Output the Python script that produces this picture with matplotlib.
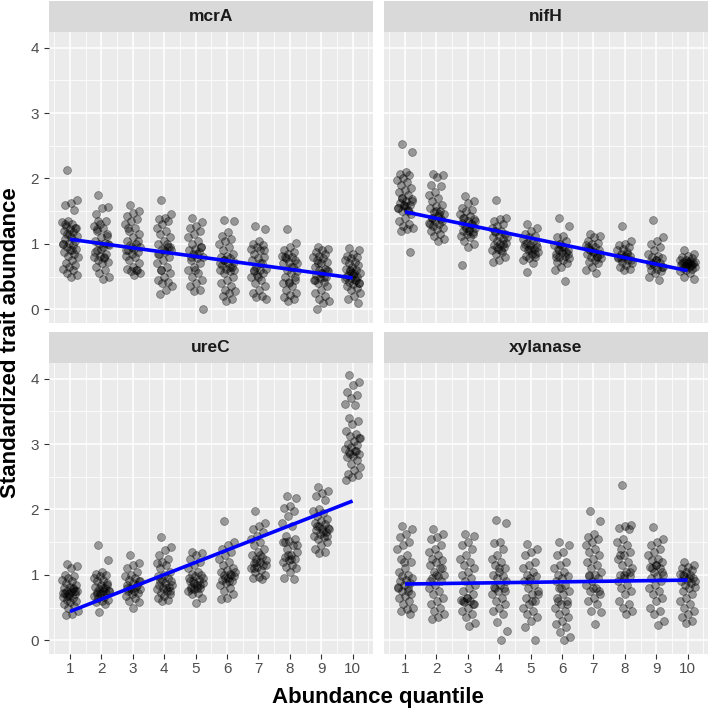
import numpy as np
import matplotlib.pyplot as plt

plt.rcParams['font.family'] = ['Liberation Sans', 'DejaVu Sans']

# values, one list per abundance quantile (1..10)
mcrA = [
    [2.13, 1.67, 1.62, 1.6, 1.52, 1.35, 1.33, 1.3, 1.28, 1.25, 1.22, 1.2, 1.18, 1.15, 1.12, 1.1, 1.08, 1.05, 1.02, 1.0, 0.98, 0.95, 0.92, 0.9, 0.88, 0.85, 0.82, 0.8, 0.75, 0.7, 0.68, 0.65, 0.62, 0.6, 0.55, 0.52, 0.5, 1.3, 1.25, 1.15, 1.0, 0.9],
    [1.75, 1.57, 1.55, 1.45, 1.35, 1.3, 1.28, 1.25, 1.2, 1.15, 1.1, 1.05, 1.02, 1.0, 0.98, 0.95, 0.9, 0.85, 0.82, 0.8, 0.78, 0.75, 0.72, 0.7, 0.65, 0.6, 0.55, 0.5, 0.47, 1.22, 1.12, 0.92, 0.88, 0.8, 1.35, 1.0],
    [1.6, 1.5, 1.47, 1.42, 1.38, 1.35, 1.3, 1.25, 1.2, 1.15, 1.1, 1.05, 1.0, 0.98, 0.95, 0.92, 0.9, 0.88, 0.85, 0.82, 0.8, 0.75, 0.7, 0.65, 0.62, 0.6, 0.58, 0.55, 0.52, 1.25, 1.05, 0.95, 0.9, 0.6],
    [1.67, 1.45, 1.4, 1.38, 1.35, 1.3, 1.25, 1.2, 1.15, 1.1, 1.05, 1.0, 0.95, 0.92, 0.9, 0.88, 0.85, 0.8, 0.75, 0.7, 0.65, 0.6, 0.55, 0.5, 0.45, 0.42, 0.4, 0.35, 0.3, 0.23, 0.95, 0.9, 0.85, 1.0, 0.6],
    [1.4, 1.33, 1.28, 1.25, 1.2, 1.15, 1.1, 1.05, 1.0, 0.95, 0.92, 0.9, 0.88, 0.85, 0.8, 0.78, 0.75, 0.7, 0.65, 0.6, 0.55, 0.5, 0.45, 0.4, 0.35, 0.3, 0.28, 0.0, 0.85, 0.8, 0.95, 0.6],
    [1.37, 1.35, 1.18, 1.12, 1.08, 1.05, 1.0, 0.95, 0.9, 0.85, 0.82, 0.8, 0.78, 0.75, 0.72, 0.7, 0.68, 0.65, 0.62, 0.6, 0.58, 0.55, 0.5, 0.45, 0.4, 0.35, 0.3, 0.28, 0.25, 0.2, 0.15, 0.12, 0.7, 0.65, 0.75, 0.6],
    [1.27, 1.22, 1.05, 1.0, 0.98, 0.95, 0.92, 0.9, 0.85, 0.8, 0.78, 0.75, 0.7, 0.65, 0.62, 0.6, 0.58, 0.55, 0.52, 0.5, 0.45, 0.4, 0.35, 0.3, 0.25, 0.2, 0.18, 0.15, 0.7, 0.6, 0.9, 0.5],
    [1.23, 1.02, 0.95, 0.9, 0.88, 0.85, 0.82, 0.8, 0.78, 0.75, 0.72, 0.7, 0.65, 0.6, 0.58, 0.55, 0.5, 0.45, 0.42, 0.4, 0.35, 0.3, 0.25, 0.22, 0.18, 0.15, 0.12, 0.7, 0.65, 0.8, 0.5, 0.4],
    [0.95, 0.92, 0.9, 0.88, 0.85, 0.82, 0.8, 0.78, 0.75, 0.72, 0.7, 0.65, 0.62, 0.6, 0.58, 0.55, 0.52, 0.5, 0.48, 0.45, 0.42, 0.4, 0.35, 0.3, 0.25, 0.2, 0.15, 0.12, 0.1, 0.0, 0.6, 0.55, 0.45, 0.5, 0.7],
    [0.94, 0.9, 0.85, 0.82, 0.8, 0.78, 0.75, 0.72, 0.7, 0.68, 0.65, 0.62, 0.6, 0.58, 0.56, 0.55, 0.52, 0.5, 0.48, 0.46, 0.45, 0.42, 0.4, 0.38, 0.35, 0.32, 0.3, 0.25, 0.2, 0.15, 0.1, 0.55, 0.5, 0.45, 0.6, 0.4, 0.52],
]
nifH = [
    [2.53, 2.4, 2.1, 2.07, 2.05, 2.0, 1.97, 1.95, 1.9, 1.85, 1.82, 1.8, 1.75, 1.7, 1.68, 1.65, 1.62, 1.6, 1.58, 1.55, 1.52, 1.5, 1.45, 1.4, 1.35, 1.3, 1.28, 1.25, 1.22, 1.2, 0.88, 1.6, 1.55, 1.5, 1.7, 1.65, 1.58],
    [2.07, 2.05, 2.02, 1.9, 1.88, 1.8, 1.75, 1.7, 1.65, 1.6, 1.58, 1.55, 1.5, 1.48, 1.45, 1.42, 1.4, 1.38, 1.35, 1.32, 1.3, 1.28, 1.25, 1.22, 1.2, 1.15, 1.12, 1.08, 1.05, 1.4, 1.35, 1.5, 1.3, 1.45],
    [1.73, 1.65, 1.62, 1.55, 1.52, 1.5, 1.45, 1.42, 1.4, 1.38, 1.35, 1.32, 1.3, 1.28, 1.25, 1.22, 1.2, 1.18, 1.15, 1.12, 1.1, 1.05, 1.0, 0.95, 0.68, 1.3, 1.25, 1.35, 1.2, 1.4, 1.15],
    [1.67, 1.4, 1.38, 1.35, 1.3, 1.28, 1.25, 1.2, 1.18, 1.15, 1.12, 1.1, 1.08, 1.05, 1.02, 1.0, 0.98, 0.95, 0.92, 0.9, 0.88, 0.85, 0.8, 0.75, 0.73, 1.0, 0.95, 1.1, 0.9, 1.2],
    [1.3, 1.25, 1.2, 1.15, 1.12, 1.1, 1.08, 1.05, 1.02, 1.0, 0.98, 0.95, 0.92, 0.9, 0.88, 0.85, 0.82, 0.8, 0.78, 0.75, 0.7, 0.57, 0.95, 0.9, 1.0, 0.85, 0.92],
    [1.4, 1.28, 1.12, 1.1, 1.05, 1.0, 0.98, 0.95, 0.92, 0.9, 0.88, 0.85, 0.82, 0.8, 0.78, 0.75, 0.72, 0.7, 0.65, 0.6, 0.43, 0.9, 0.85, 0.95, 0.8, 0.88, 1.0],
    [1.15, 1.12, 1.1, 1.05, 1.02, 1.0, 0.98, 0.95, 0.92, 0.9, 0.88, 0.85, 0.82, 0.8, 0.78, 0.75, 0.72, 0.7, 0.65, 0.6, 0.55, 0.9, 0.85, 0.88, 0.95, 0.8],
    [1.28, 1.05, 1.0, 0.98, 0.95, 0.92, 0.9, 0.88, 0.85, 0.82, 0.8, 0.78, 0.75, 0.72, 0.7, 0.68, 0.65, 0.62, 0.6, 0.8, 0.85, 0.78, 0.75, 0.82],
    [1.37, 1.1, 1.05, 1.0, 0.95, 0.9, 0.85, 0.82, 0.8, 0.78, 0.75, 0.72, 0.7, 0.68, 0.65, 0.62, 0.6, 0.58, 0.55, 0.5, 0.45, 0.7, 0.65, 0.75, 0.68],
    [0.9, 0.85, 0.82, 0.8, 0.78, 0.76, 0.75, 0.74, 0.72, 0.7, 0.69, 0.68, 0.67, 0.66, 0.65, 0.64, 0.63, 0.62, 0.6, 0.58, 0.55, 0.5, 0.47, 0.72, 0.7, 0.68, 0.66, 0.73, 0.71],
]
ureC = [
    [1.17, 1.13, 1.1, 1.0, 0.98, 0.95, 0.92, 0.9, 0.88, 0.85, 0.82, 0.8, 0.78, 0.76, 0.75, 0.74, 0.72, 0.7, 0.68, 0.66, 0.65, 0.62, 0.6, 0.58, 0.55, 0.52, 0.5, 0.45, 0.4, 0.38, 0.75, 0.7, 0.72, 0.8, 0.68],
    [1.45, 1.22, 1.05, 1.02, 1.0, 0.98, 0.95, 0.92, 0.9, 0.88, 0.85, 0.82, 0.8, 0.78, 0.76, 0.75, 0.74, 0.72, 0.7, 0.68, 0.66, 0.65, 0.62, 0.6, 0.58, 0.55, 0.43, 0.75, 0.8, 0.7, 0.85, 0.72],
    [1.3, 1.18, 1.15, 1.1, 1.05, 1.0, 0.98, 0.95, 0.92, 0.9, 0.88, 0.85, 0.82, 0.8, 0.78, 0.76, 0.75, 0.72, 0.7, 0.68, 0.65, 0.6, 0.58, 0.5, 0.8, 0.85, 0.78, 0.9],
    [1.58, 1.43, 1.38, 1.3, 1.25, 1.2, 1.18, 1.15, 1.1, 1.05, 1.0, 0.98, 0.95, 0.92, 0.9, 0.88, 0.85, 0.82, 0.8, 0.78, 0.75, 0.72, 0.7, 0.68, 0.65, 0.62, 0.6, 0.85, 0.8, 0.9, 0.75],
    [1.35, 1.33, 1.3, 1.25, 1.2, 1.15, 1.1, 1.05, 1.02, 1.0, 0.98, 0.95, 0.92, 0.9, 0.88, 0.85, 0.82, 0.8, 0.78, 0.75, 0.72, 0.7, 0.65, 0.57, 0.9, 0.85, 0.88, 0.95, 0.8, 0.78],
    [1.83, 1.5, 1.45, 1.4, 1.35, 1.3, 1.25, 1.2, 1.15, 1.1, 1.08, 1.05, 1.02, 1.0, 0.98, 0.95, 0.92, 0.9, 0.88, 0.85, 0.8, 0.75, 0.7, 0.65, 0.63, 1.0, 0.95, 1.05, 0.9],
    [1.98, 1.8, 1.75, 1.7, 1.65, 1.6, 1.55, 1.5, 1.45, 1.4, 1.35, 1.3, 1.28, 1.25, 1.22, 1.2, 1.18, 1.15, 1.12, 1.1, 1.08, 1.05, 1.0, 0.97, 0.95, 0.93, 1.2, 1.15, 1.3, 1.1],
    [2.2, 2.17, 2.05, 2.02, 1.98, 1.9, 1.8, 1.75, 1.6, 1.55, 1.52, 1.5, 1.45, 1.4, 1.35, 1.3, 1.28, 1.25, 1.22, 1.2, 1.15, 1.12, 1.1, 1.05, 0.95, 0.93, 1.3, 1.45, 1.25, 1.5],
    [2.35, 2.28, 2.25, 2.2, 2.15, 2.0, 1.98, 1.95, 1.9, 1.85, 1.82, 1.8, 1.78, 1.75, 1.72, 1.7, 1.68, 1.65, 1.62, 1.6, 1.58, 1.55, 1.5, 1.45, 1.4, 1.35, 1.33, 1.7, 1.65, 1.75, 1.6],
    [4.05, 3.95, 3.9, 3.8, 3.75, 3.7, 3.62, 3.6, 3.4, 3.35, 3.3, 3.2, 3.15, 3.12, 3.1, 3.05, 3.0, 2.98, 2.95, 2.92, 2.9, 2.88, 2.85, 2.82, 2.8, 2.75, 2.7, 2.65, 2.6, 2.55, 2.52, 2.5, 2.45, 2.9, 2.85, 3.1],
]
xylanase = [
    [1.75, 1.7, 1.62, 1.58, 1.5, 1.45, 1.4, 1.3, 1.25, 1.2, 1.1, 1.05, 1.0, 0.98, 0.95, 0.92, 0.9, 0.88, 0.85, 0.82, 0.8, 0.75, 0.7, 0.68, 0.65, 0.6, 0.55, 0.5, 0.48, 0.45, 0.4, 1.2, 0.8, 0.75],
    [1.7, 1.62, 1.58, 1.55, 1.45, 1.4, 1.35, 1.3, 1.25, 1.22, 1.2, 1.15, 1.1, 1.05, 1.0, 0.98, 0.95, 0.9, 0.85, 0.8, 0.75, 0.7, 0.65, 0.6, 0.55, 0.5, 0.45, 0.4, 0.35, 0.33, 1.1, 1.0, 0.9],
    [1.63, 1.6, 1.5, 1.45, 1.4, 1.3, 1.25, 1.2, 1.15, 1.1, 1.05, 1.0, 0.95, 0.9, 0.85, 0.8, 0.75, 0.7, 0.65, 0.62, 0.6, 0.58, 0.55, 0.5, 0.45, 0.4, 0.35, 0.27, 0.22, 0.6, 0.55, 0.65],
    [1.84, 1.8, 1.5, 1.48, 1.4, 1.3, 1.25, 1.2, 1.15, 1.1, 1.05, 1.0, 0.98, 0.95, 0.9, 0.85, 0.82, 0.8, 0.75, 0.7, 0.65, 0.6, 0.55, 0.5, 0.45, 0.4, 0.28, 0.14, 0.0, 0.8, 0.75, 1.1],
    [1.47, 1.4, 1.35, 1.3, 1.2, 1.15, 1.1, 1.05, 1.0, 0.98, 0.95, 0.9, 0.85, 0.8, 0.75, 0.7, 0.65, 0.6, 0.55, 0.5, 0.45, 0.4, 0.35, 0.3, 0.2, 0.0, 0.9, 0.7, 0.6],
    [1.5, 1.45, 1.35, 1.3, 1.2, 1.15, 1.1, 1.05, 1.0, 0.98, 0.95, 0.9, 0.85, 0.8, 0.75, 0.7, 0.65, 0.6, 0.55, 0.5, 0.45, 0.4, 0.35, 0.3, 0.25, 0.2, 0.12, 0.05, 0.0, 0.6, 0.55, 0.8],
    [1.97, 1.83, 1.62, 1.58, 1.55, 1.5, 1.45, 1.4, 1.35, 1.3, 1.25, 1.2, 1.15, 1.1, 1.05, 1.0, 0.98, 0.95, 0.9, 0.85, 0.8, 0.75, 0.7, 0.65, 0.6, 0.55, 0.45, 0.43, 0.25, 1.0, 0.75, 0.8],
    [2.37, 1.77, 1.75, 1.72, 1.7, 1.55, 1.5, 1.45, 1.4, 1.35, 1.3, 1.25, 1.2, 1.15, 1.1, 1.05, 1.0, 0.98, 0.95, 0.9, 0.85, 0.8, 0.75, 0.7, 0.6, 0.55, 0.5, 0.45, 0.4, 1.3, 1.05, 1.0],
    [1.73, 1.55, 1.5, 1.45, 1.4, 1.35, 1.3, 1.25, 1.22, 1.2, 1.15, 1.12, 1.1, 1.05, 1.0, 0.98, 0.95, 0.9, 0.85, 0.8, 0.75, 0.7, 0.65, 0.6, 0.5, 0.45, 0.4, 0.3, 0.23, 1.1, 1.05, 1.15],
    [1.2, 1.15, 1.12, 1.1, 1.08, 1.05, 1.02, 1.0, 0.98, 0.95, 0.92, 0.9, 0.88, 0.85, 0.82, 0.8, 0.75, 0.7, 0.65, 0.6, 0.55, 0.5, 0.45, 0.4, 0.35, 0.3, 0.27, 0.9, 0.95, 1.0],
]

panel_names = ['mcrA', 'nifH', 'ureC', 'xylanase']
panel_data = [mcrA, nifH, ureC, xylanase]
quantiles = list(range(1, 11))
# fitted lm line read at quantile 1 and quantile 10
fit_at_1 = [1.07, 1.49, 0.44, 0.86]
fit_at_10 = [0.48, 0.59, 2.13, 0.92]

W, H = 709, 711
fig = plt.figure(figsize=(W / 100, H / 100), dpi=100)

# panel boxes in pixels: left, top, width, height
boxes = [(49, 32, 324, 291), (384, 32, 324, 291),
         (49, 363, 324, 291), (384, 363, 324, 291)]
strip_h = 31

for k, (name, groups) in enumerate(zip(panel_names, panel_data)):
    l, t, w, h = boxes[k]
    ax = fig.add_axes([l / W, 1 - (t + h) / H, w / W, h / H])
    ax.set_facecolor('#EBEBEB')
    for s in ax.spines.values():
        s.set_visible(False)
    ax.set_xlim(0.33, 10.65)
    ax.set_ylim(-0.21, 4.24)

    for v in np.arange(0.5, 11, 1.0):
        ax.axvline(v, color='white', lw=0.55, zorder=0)
    for v in np.arange(0.5, 4.5, 1.0):
        ax.axhline(v, color='white', lw=0.55, zorder=0)
    for v in quantiles:
        ax.axvline(v, color='white', lw=1.1, zorder=0)
    for v in range(0, 5):
        ax.axhline(v, color='white', lw=1.1, zorder=0)

    for q, vals in zip(quantiles, groups):
        n = len(vals)
        # deterministic jitter spread
        off = ((np.arange(n) * 0.618034 + 0.3) % 1.0) * 2 - 1
        ax.scatter(q + 0.25 * off, vals, s=32, c='black', alpha=0.36,
                   linewidths=0.6, edgecolors='black', zorder=2)

    ax.plot([1, 10], [fit_at_1[k], fit_at_10[k]], color='#0000FF', lw=2.6,
            solid_capstyle='butt', zorder=3)

    ax.set_xticks(quantiles)
    ax.set_yticks([0, 1, 2, 3, 4])
    ax.tick_params(colors='#333333', labelcolor='#4D4D4D', labelsize=11,
                   length=3.6, width=0.8)
    ax.tick_params(axis='x', pad=2.5)
    ax.tick_params(axis='y', pad=3.5)
    if k in (0, 2):
        ax.set_yticklabels(['0', '1', '2', '3', '4'])
    else:
        ax.tick_params(axis='y', left=False, labelleft=False)
    if k in (2, 3):
        ax.set_xticklabels([str(q) for q in quantiles])
    else:
        ax.tick_params(axis='x', bottom=False, labelbottom=False)

    # facet strip
    sax = fig.add_axes([l / W, 1 - t / H, w / W, strip_h / H])
    sax.set_facecolor('#D9D9D9')
    sax.set_xticks([])
    sax.set_yticks([])
    for s in sax.spines.values():
        s.set_visible(False)
    sax.text(0.5, 0.5, name, ha='center', va='center', fontsize=12.5,
             fontweight='bold', color='#1A1A1A', transform=sax.transAxes)

fig.text(378 / W, 1 - 697 / H, 'Abundance quantile', ha='center',
         va='center', fontsize=16, fontweight='bold')
fig.text(11 / W, 1 - 343 / H, 'Standardized trait abundance', ha='center',
         va='center', rotation=90, fontsize=16, fontweight='bold')

fig.savefig('out.png', dpi=100)
